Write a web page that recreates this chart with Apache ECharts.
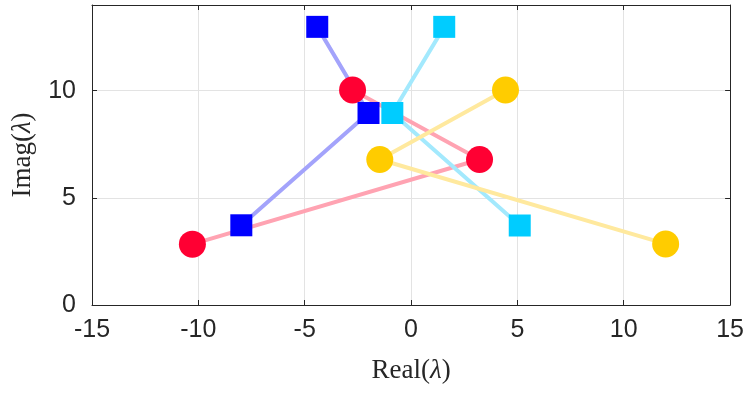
<!DOCTYPE html>
<html>
<head>
<meta charset="utf-8">
<script src="https://cdn.jsdelivr.net/npm/echarts@6/dist/echarts.min.js"></script>
<style>
  html, body { margin: 0; padding: 0; background: #fff; }
  #chart { width: 747px; height: 393px; }
</style>
</head>
<body>
<div id="chart"></div>
<script>
// eigenvalue paths, [real, imag]
const redPts = [[-2.75, 10.03], [3.22, 6.79], [-10.28, 2.84]];
const bluePts = [[-4.41, 12.98], [-2.0, 8.96], [-7.98, 3.72]];
const cyanPts = [[1.56, 12.98], [-0.88, 8.96], [5.11, 3.71]];
const yellowPts = [[4.44, 10.03], [-1.47, 6.79], [11.97, 2.85]];

const xTicks = [-15, -10, -5, 0, 5, 10, 15];
const yTicks = [0, 5, 10];

const axisColor = '#262626';
const tickFont = { fontFamily: 'Liberation Sans', fontSize: 25, color: axisColor };
const nameFont = {
  fontFamily: 'Liberation Serif', fontSize: 27, color: axisColor,
  rich: { i: { fontFamily: 'Liberation Serif', fontStyle: 'italic', fontSize: 27, color: axisColor } }
};

function mkSeries(data, mark, size, col, lineCol) {
  return {
    type: 'line',
    data: data,
    symbol: mark,
    symbolSize: size,
    itemStyle: { color: col, borderWidth: 0 },
    lineStyle: { color: lineCol, width: 4 },
    emphasis: { disabled: true },
    animation: false
  };
}

const chart = echarts.init(document.getElementById('chart'));
chart.setOption({
  grid: { left: 92, right: 15, top: 5, bottom: 88 },
  xAxis: [{
    type: 'value', min: xTicks[0], max: xTicks[xTicks.length - 1], interval: 5,
    axisLine: { show: true, onZero: false, lineStyle: { color: axisColor } },
    axisTick: { inside: true, length: 5, lineStyle: { color: axisColor } },
    axisLabel: Object.assign({ margin: 13 }, tickFont),
    splitLine: { show: true, lineStyle: { color: '#e3e3e3' } },
    name: 'Real({i|λ})', nameLocation: 'middle', nameGap: 52, nameTextStyle: nameFont
  }, {
    type: 'value', position: 'top', min: xTicks[0], max: xTicks[xTicks.length - 1], interval: 5,
    axisLine: { show: true, onZero: false, lineStyle: { color: axisColor } },
    axisTick: { inside: true, length: 5, lineStyle: { color: axisColor } },
    axisLabel: { show: false }, splitLine: { show: false }
  }],
  yAxis: [{
    type: 'value', min: yTicks[0], max: 14, interval: 5,
    axisLine: { show: true, onZero: false, lineStyle: { color: axisColor } },
    axisTick: { inside: true, length: 5, lineStyle: { color: axisColor } },
    axisLabel: Object.assign({ margin: 16, showMaxLabel: false }, tickFont),
    splitLine: { show: true, lineStyle: { color: '#e3e3e3' } },
    name: 'Imag({i|λ})', nameLocation: 'middle', nameGap: 56, nameRotate: 90, nameTextStyle: nameFont
  }, {
    type: 'value', position: 'right', min: yTicks[0], max: 14, interval: 5,
    axisLine: { show: true, onZero: false, lineStyle: { color: axisColor } },
    axisTick: { inside: true, length: 5, lineStyle: { color: axisColor } },
    axisLabel: { show: false }, splitLine: { show: false }
  }],
  series: [
    mkSeries(redPts, 'circle', 27, '#ff0033', '#ffa3b2'),
    mkSeries(bluePts, 'rect', 22, '#0000ff', '#a3a3fb'),
    mkSeries(cyanPts, 'rect', 22, '#00ccff', '#a3e9fd'),
    mkSeries(yellowPts, 'circle', 27, '#ffcc00', '#ffe99e')
  ]
});
</script>
</body>
</html>
